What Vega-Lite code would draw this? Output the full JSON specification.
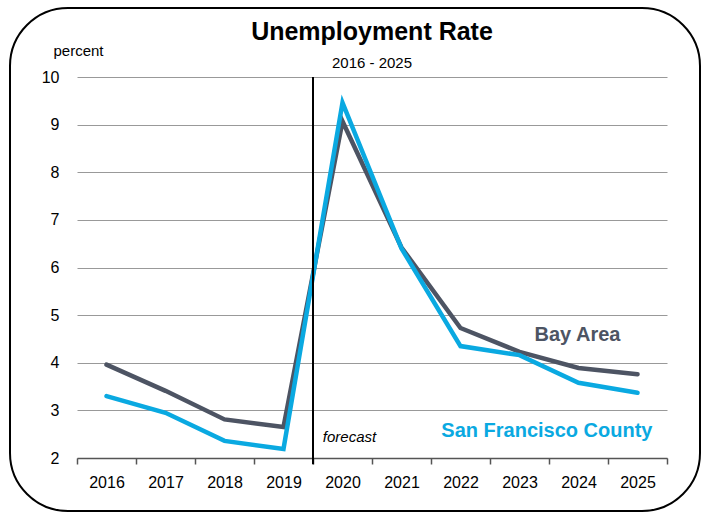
{
  "$schema": "https://vega.github.io/schema/vega-lite/v6.json",
  "width": 590,
  "height": 381,
  "autosize": {"type": "none"},
  "padding": {"left": 77, "top": 77, "right": 41, "bottom": 56},
  "background": "white",
  "config": {
    "font": "Liberation Sans",
    "view": {"stroke": null}
  },
  "title": {
    "text": "Unemployment Rate",
    "subtitle": "2016 - 2025",
    "fontSize": 25,
    "fontWeight": "bold",
    "color": "black",
    "subtitleFontSize": 15,
    "subtitleColor": "black",
    "subtitlePadding": 11,
    "offset": 8,
    "dy": 72,
    "anchor": "middle",
    "font": "Liberation Sans",
    "subtitleFont": "Liberation Sans"
  },
  "datasets": {
    "rates": [
      {"year": "2016", "series": "Bay Area", "rate": 3.96},
      {"year": "2017", "series": "Bay Area", "rate": 3.41},
      {"year": "2018", "series": "Bay Area", "rate": 2.81},
      {"year": "2019", "series": "Bay Area", "rate": 2.65},
      {"year": "2020", "series": "Bay Area", "rate": 9.07},
      {"year": "2021", "series": "Bay Area", "rate": 6.42},
      {"year": "2022", "series": "Bay Area", "rate": 4.73},
      {"year": "2023", "series": "Bay Area", "rate": 4.23},
      {"year": "2024", "series": "Bay Area", "rate": 3.89},
      {"year": "2025", "series": "Bay Area", "rate": 3.76},
      {"year": "2016", "series": "San Francisco County", "rate": 3.30},
      {"year": "2017", "series": "San Francisco County", "rate": 2.95},
      {"year": "2018", "series": "San Francisco County", "rate": 2.36},
      {"year": "2019", "series": "San Francisco County", "rate": 2.19},
      {"year": "2020", "series": "San Francisco County", "rate": 9.46},
      {"year": "2021", "series": "San Francisco County", "rate": 6.40},
      {"year": "2022", "series": "San Francisco County", "rate": 4.35},
      {"year": "2023", "series": "San Francisco County", "rate": 4.16},
      {"year": "2024", "series": "San Francisco County", "rate": 3.58},
      {"year": "2025", "series": "San Francisco County", "rate": 3.37}
    ],
    "bayLabel": [
      {"year": "2024", "rate": 4.58, "label": "Bay Area", "series": "Bay Area"}
    ],
    "sfLabel": [
      {"year": "2025", "rate": 2.57, "label": "San Francisco County", "series": "San Francisco County"}
    ],
    "marker": [
      {"year": "2020", "top": 10, "bottom": 1.87, "label": "forecast", "labelRate": 2.45}
    ],
    "frame": [{"f": 1}]
  },
  "layer": [
    {
      "data": {"name": "frame"},
      "mark": {
        "type": "rect",
        "x": -67, "y": -69,
        "x2": {"expr": "width + 33"}, "y2": {"expr": "height + 53"},
        "fill": null, "stroke": "black", "strokeWidth": 2, "cornerRadius": 58
      },
      "encoding": {}
    },
    {
      "data": {"name": "rates"},
      "mark": {"type": "line", "strokeWidth": 4.5, "strokeCap": "round", "strokeJoin": "miter"},
      "encoding": {
        "x": {
          "field": "year", "type": "ordinal",
          "scale": {"type": "band", "paddingInner": 0, "paddingOuter": 0},
          "axis": {
            "title": null, "labelAngle": 0, "labelFontSize": 16, "labelColor": "black",
            "labelPadding": 10, "tickBand": "extent", "tickSize": 6, "tickColor": "#555",
            "domainColor": "#555", "domainWidth": 1.5, "tickWidth": 1.5, "grid": false
          }
        },
        "y": {
          "field": "rate", "type": "quantitative",
          "scale": {"domain": [2, 10], "nice": false, "zero": false},
          "axis": {
            "values": [2, 3, 4, 5, 6, 7, 8, 9, 10],
            "title": "percent", "titleAngle": 0, "titleFontWeight": "normal", "titleFontSize": 15,
            "titleColor": "black", "titleX": 1, "titleY": -27, "titleAlign": "center", "titleBaseline": "middle",
            "labelFontSize": 16, "labelColor": "black", "labelPadding": 18,
            "domain": false, "ticks": false, "grid": true, "gridColor": "#999", "gridWidth": 1
          }
        },
        "color": {
          "field": "series", "type": "nominal",
          "scale": {"domain": ["Bay Area", "San Francisco County"], "range": ["#4d5463", "#0aa9e1"]},
          "legend": null
        }
      }
    },
    {
      "data": {"name": "marker"},
      "mark": {"type": "rule", "color": "black", "strokeWidth": 2},
      "encoding": {
        "x": {"field": "year", "type": "ordinal", "bandPosition": 0},
        "y": {"field": "top", "type": "quantitative"},
        "y2": {"field": "bottom"}
      }
    },
    {
      "data": {"name": "marker"},
      "mark": {"type": "text", "fontStyle": "italic", "fontSize": 15, "align": "center", "dx": 7, "color": "black"},
      "encoding": {
        "x": {"field": "year", "type": "ordinal"},
        "y": {"field": "labelRate", "type": "quantitative"},
        "text": {"field": "label"}
      }
    },
    {
      "data": {"name": "bayLabel"},
      "mark": {"type": "text", "fontWeight": "bold", "fontSize": 20, "align": "center", "baseline": "middle", "dx": -1},
      "encoding": {
        "x": {"field": "year", "type": "ordinal"},
        "y": {"field": "rate", "type": "quantitative"},
        "text": {"field": "label"},
        "color": {"field": "series", "type": "nominal", "legend": null}
      }
    },
    {
      "data": {"name": "sfLabel"},
      "mark": {"type": "text", "fontWeight": "bold", "fontSize": 20, "align": "right", "baseline": "middle", "dx": 15},
      "encoding": {
        "x": {"field": "year", "type": "ordinal"},
        "y": {"field": "rate", "type": "quantitative"},
        "text": {"field": "label"},
        "color": {"field": "series", "type": "nominal", "legend": null}
      }
    }
  ]
}
